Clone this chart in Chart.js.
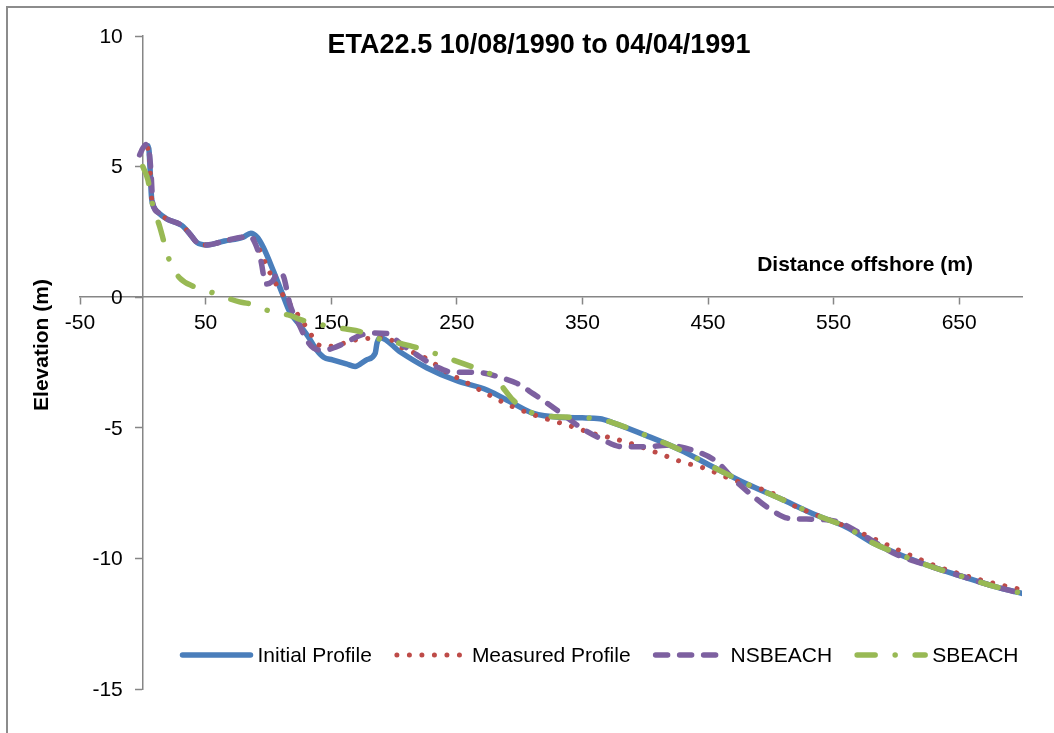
<!DOCTYPE html>
<html>
<head>
<meta charset="utf-8">
<script src="https://cdn.jsdelivr.net/npm/chart.js@4.4.1/dist/chart.umd.min.js"></script>
<style>
  html, body { margin: 0; padding: 0; background: #fff; }
  #wrap { width: 1054px; height: 733px; }
</style>
</head>
<body>
<div id="wrap"><canvas id="profileChart" width="1054" height="733"></canvas></div>
<script>
"use strict";

var chartTitle = 'ETA22.5 10/08/1990 to 04/04/1991';
var xTitle = 'Distance offshore (m)';
var yTitle = 'Elevation (m)';
var seriesNames = ['Initial Profile', 'Measured Profile', 'NSBEACH', 'SBEACH'];
var xTickValues = [-50, 50, 150, 250, 350, 450, 550, 650];

// Initial profile
var initialX = [4, 5, 6, 7, 9.5, 12, 19, 31, 37, 43, 51, 65, 80, 86, 91, 96, 104, 111, 117, 125, 132, 138, 144, 151, 162, 169, 178, 185, 186.5, 189, 205, 226, 250, 274, 295, 311, 332, 350, 364, 374, 401, 428, 454, 481, 507, 534, 560, 581, 600, 627, 653, 680, 701];
var initialY = [5.8, 5.6, 4.7, 3.8, 3.4, 3.25, 3.0, 2.75, 2.45, 2.1, 2.0, 2.15, 2.3, 2.45, 2.3, 1.9, 1.0, 0.15, -0.56, -1.07, -1.53, -2.0, -2.3, -2.4, -2.55, -2.65, -2.4, -2.15, -1.75, -1.55, -2.1, -2.7, -3.2, -3.55, -4.07, -4.45, -4.6, -4.62, -4.65, -4.8, -5.3, -5.85, -6.5, -7.15, -7.7, -8.3, -8.8, -9.4, -9.8, -10.3, -10.7, -11.1, -11.35];

// Measured profile
var measuredX = [4, 5, 6, 7, 9.5, 12, 19, 31, 37, 43, 51, 65, 80, 86, 93, 101, 110, 122, 133, 138, 146, 157, 173, 183, 193, 205, 226, 242, 259, 276, 292, 311, 330, 345, 357, 374, 393, 412, 429, 448, 465, 483, 501, 518, 537, 561, 580, 597, 615, 632, 651, 669, 688, 700];
var measuredY = [5.7, 5.5, 4.7, 3.8, 3.4, 3.25, 3.0, 2.75, 2.45, 2.1, 2.0, 2.15, 2.3, 2.3, 1.8, 0.95, 0.2, -0.57, -1.35, -1.75, -1.9, -1.8, -1.6, -1.57, -1.53, -1.9, -2.35, -2.87, -3.3, -3.75, -4.14, -4.5, -4.78, -5.0, -5.2, -5.4, -5.67, -6.0, -6.3, -6.56, -6.9, -7.2, -7.5, -7.97, -8.35, -8.8, -9.2, -9.58, -9.96, -10.3, -10.6, -10.85, -11.07, -11.2];

// NSBEACH
var nsbeachX = [-2.5, 0, 3, 5, 6.5, 8, 12, 19, 31, 37, 43, 51, 65, 80, 86, 90, 94, 98, 103, 108, 112, 117, 124, 130, 136, 144, 154, 165, 173, 183, 194, 205, 218, 234, 247, 258, 271, 284, 298, 311, 324, 337, 348, 364, 382, 401, 417, 438, 457, 470, 483, 499, 515, 534, 553, 569, 587, 600, 627, 653, 680, 700];
var nsbeachY = [5.45, 5.7, 5.85, 5.6, 4.8, 3.6, 3.25, 3.0, 2.75, 2.45, 2.1, 2.0, 2.15, 2.3, 2.3, 2.0, 1.4, 0.5, 0.6, 0.95, 0.8, -0.25, -1.0, -1.6, -1.95, -2.03, -1.9, -1.65, -1.46, -1.37, -1.39, -1.77, -2.2, -2.67, -2.87, -2.87, -2.9, -3.06, -3.3, -3.7, -4.13, -4.58, -4.97, -5.4, -5.73, -5.73, -5.67, -5.86, -6.3, -6.95, -7.5, -8.1, -8.47, -8.5, -8.6, -8.98, -9.5, -9.85, -10.3, -10.7, -11.1, -11.35];

// SBEACH
var sbeachX = [0, 4, 8, 13.5, 17.5, 22, 29.5, 40, 57, 77, 84, 103, 117, 127, 138, 151, 162, 173, 185, 205, 225, 244, 263, 276, 284, 295, 311, 322, 342, 361, 374, 401, 428, 454, 481, 507, 534, 560, 581, 600, 627, 653, 680, 701];
var sbeachY = [5.0, 4.5, 3.5, 2.7, 2.0, 1.3, 0.73, 0.42, 0.15, -0.18, -0.24, -0.56, -0.7, -0.88, -1.0, -1.15, -1.22, -1.32, -1.55, -1.77, -2.03, -2.35, -2.68, -2.92, -3.3, -3.95, -4.45, -4.55, -4.6, -4.65, -4.8, -5.3, -5.85, -6.5, -7.15, -7.7, -8.3, -8.8, -9.4, -9.8, -10.3, -10.7, -11.1, -11.35];

var FONT = "Arial, 'Liberation Sans', sans-serif";
var AXIS_GREY = '#868686';

function toPoints(xs, ys) {
    return xs.map(function (x, i) { return { x: x, y: ys[i] }; });
}

// line look of each series (used by chart and legend)
var styles = [
    { color: '#4A7EBB', width: 5.5, dash: [] },
    { color: '#BE4B48', width: 5, dash: [0.01, 12.5] },
    { color: '#7D60A0', width: 5.5, dash: [12, 12] },
    { color: '#98B954', width: 5.5, dash: [18, 20, 0.01, 20] }
];

var extrasPlugin = {
    id: 'extras',
    beforeDraw: function (chart) {
        var ctx = chart.ctx;
        ctx.save();
        ctx.fillStyle = '#fff';
        ctx.fillRect(0, 0, chart.width, chart.height);
        // outer frame
        ctx.strokeStyle = '#8c8c8c';
        ctx.lineWidth = 2;
        ctx.beginPath();
        ctx.moveTo(7, chart.height + 5);
        ctx.lineTo(7, 7);
        ctx.lineTo(chart.width + 5, 7);
        ctx.stroke();
        ctx.restore();
    },
    afterDraw: function (chart) {
        var ctx = chart.ctx;
        ctx.save();
        ctx.fillStyle = '#000';
        ctx.textBaseline = 'middle';

        // y tick labels, left of the tick marks
        var yScale = chart.scales.y;
        var axisX = chart.scales.x.getPixelForValue(0);
        ctx.font = '21px ' + FONT;
        ctx.textAlign = 'right';
        yScale.ticks.forEach(function (t) {
            ctx.fillText(String(t.value), axisX - 20, yScale.getPixelForValue(t.value) + 1);
        });

        // title
        ctx.font = 'bold 27px ' + FONT;
        ctx.textAlign = 'center';
        ctx.fillText(chartTitle, 539, 46);

        // x axis title
        ctx.font = 'bold 21px ' + FONT;
        ctx.textAlign = 'right';
        ctx.fillText(xTitle, 973, 265);

        // y axis title
        ctx.save();
        ctx.translate(42, 345);
        ctx.rotate(-Math.PI / 2);
        ctx.textAlign = 'center';
        ctx.fillText(yTitle, 0, 0);
        ctx.restore();

        // legend
        ctx.font = '21px ' + FONT;
        ctx.textAlign = 'left';
        var sampleLen = 74, textGap = 4, entryGap = 22;
        var widths = seriesNames.map(function (n) { return ctx.measureText(n).width; });
        var total = 0;
        widths.forEach(function (w) { total += sampleLen + textGap + w; });
        total += entryGap * (seriesNames.length - 1);
        var x = 599 - total / 2;
        var y = 655;
        seriesNames.forEach(function (name, i) {
            var s = styles[i];
            ctx.save();
            ctx.strokeStyle = s.color;
            ctx.lineWidth = s.width;
            ctx.lineCap = 'round';
            ctx.setLineDash(s.dash);
            ctx.beginPath();
            ctx.moveTo(x + 3, y);
            ctx.lineTo(x + sampleLen - 3, y);
            ctx.stroke();
            ctx.restore();
            ctx.fillStyle = '#000';
            ctx.fillText(name, x + sampleLen + textGap, y + 1);
            x += sampleLen + textGap + widths[i] + entryGap;
        });
        ctx.restore();
    }
};

var datasets = [
    { x: initialX, y: initialY },
    { x: measuredX, y: measuredY },
    { x: nsbeachX, y: nsbeachY },
    { x: sbeachX, y: sbeachY }
].map(function (d, i) {
    var s = styles[i];
    return {
        label: seriesNames[i],
        data: toPoints(d.x, d.y),
        showLine: true,
        borderColor: s.color,
        backgroundColor: s.color,
        borderWidth: s.width,
        borderDash: s.dash,
        borderCapStyle: 'round',
        borderJoinStyle: 'round',
        cubicInterpolationMode: 'monotone',
        pointRadius: 0,
        pointHoverRadius: 0,
        order: 4 - i
    };
});

var ctx = document.getElementById('profileChart').getContext('2d');
var myChart = new Chart(ctx, {
    type: 'scatter',
    data: { datasets: datasets },
    options: {
        responsive: false,
        animation: false,
        events: [],
        layout: { padding: { left: 80, right: 32, top: 36, bottom: 44 } },
        plugins: {
            legend: { display: false },
            title: { display: false },
            tooltip: { enabled: false }
        },
        scales: {
            x: {
                type: 'linear',
                min: -50,
                max: 700,
                position: { y: 0 },
                afterBuildTicks: function (scale) {
                    scale.ticks = xTickValues.map(function (v) { return { value: v }; });
                },
                grid: {
                    drawOnChartArea: false,
                    drawTicks: true,
                    tickLength: 7,
                    tickColor: AXIS_GREY,
                    tickWidth: 1.5
                },
                border: { display: true, color: AXIS_GREY, width: 1.5 },
                ticks: {
                    color: '#000',
                    padding: 6,
                    maxRotation: 0,
                    font: { family: FONT, size: 21 }
                }
            },
            y: {
                type: 'linear',
                min: -15,
                max: 10,
                position: { x: 0 },
                ticks: {
                    stepSize: 5,
                    display: false
                },
                grid: {
                    drawOnChartArea: false,
                    drawTicks: true,
                    tickLength: 7,
                    tickColor: AXIS_GREY,
                    tickWidth: 1.5
                },
                border: { display: true, color: AXIS_GREY, width: 1.5 }
            }
        }
    },
    plugins: [extrasPlugin]
});
</script>
</body>
</html>
